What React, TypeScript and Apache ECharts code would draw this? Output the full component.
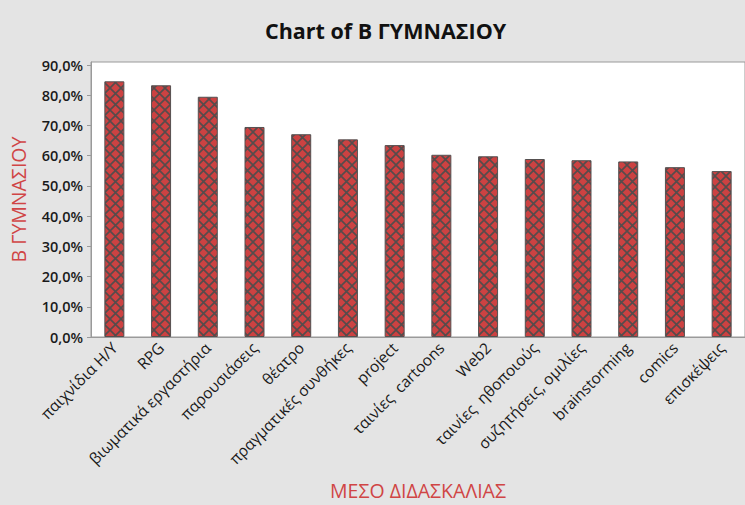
import React, { useEffect, useRef } from "react";
import * as echarts from "echarts";

const categories = [
  "παιχνίδια Η/Υ",
  "RPG",
  "βιωματικά εργαστήρια",
  "παρουσιάσεις",
  "θέατρο",
  "πραγματικές συνθήκες",
  "project",
  "ταινίες  cartoons",
  "Web2",
  "ταινίες  ηθοποιούς",
  "συζητήσεις, ομιλίες",
  "brainstorming",
  "comics",
  "επισκέψεις",
];
const values = [84.6, 83.3, 79.5, 69.5, 67.1, 65.4, 63.5, 60.3, 59.8, 58.9, 58.5, 58.1, 56.2, 54.9];
const titleText = "Chart of Β ΓΥΜΝΑΣΙΟΥ";
const yName = "Β ΓΥΜΝΑΣΙΟΥ";
const xName = "ΜΕΣΟ ΔΙΔΑΣΚΑΛΙΑΣ";

const FONT = "'Open Sans', 'Noto Sans', sans-serif";

function makePattern(): HTMLCanvasElement {
  const s = 11;
  const c = document.createElement("canvas");
  c.width = s;
  c.height = s;
  const ctx = c.getContext("2d")!;
  ctx.fillStyle = "#cc4242";
  ctx.fillRect(0, 0, s, s);
  ctx.strokeStyle = "#554c4c";
  ctx.lineWidth = 1.6;
  ctx.beginPath();
  ctx.moveTo(0, 0);
  ctx.lineTo(s, s);
  ctx.moveTo(s, 0);
  ctx.lineTo(0, s);
  ctx.stroke();
  return c;
}

export default function App() {
  const ref = useRef<HTMLDivElement>(null);
  useEffect(() => {
    if (!ref.current) return;
    const chart = echarts.init(ref.current, undefined, { renderer: "svg" });
    const pattern = makePattern();
    chart.setOption({
      animation: false,
      backgroundColor: "#e4e4e4",
      textStyle: { fontFamily: FONT },
      title: {
        text: titleText,
        left: 260,
        top: 14,
        textStyle: { fontFamily: FONT, fontSize: 21.5, fontWeight: "bold", color: "#111" },
      },
      grid: {
        left: 90,
        top: 62,
        width: 660,
        height: 278,
        show: true,
        backgroundColor: "#ffffff",
        borderColor: "#9a9a9a",
        borderWidth: 1,
        containLabel: false,
      },
      xAxis: {
        type: "category",
        data: categories,
        name: xName,
        nameLocation: "middle",
        nameGap: 143,
        nameTextStyle: { color: "#d04545", fontSize: 19.5, fontFamily: FONT },
        axisLine: { lineStyle: { color: "#9a9a9a" } },
        axisTick: { alignWithLabel: true, length: 4, lineStyle: { color: "#9a9a9a" } },
        axisLabel: {
          rotate: 45,
          interval: 0,
          margin: 8,
          fontSize: 15.5,
          color: "#1a1a1a",
          fontFamily: FONT,
        },
      },
      yAxis: {
        type: "value",
        min: 0,
        max: 91,
        interval: 10,
        name: yName,
        nameLocation: "middle",
        nameRotate: 90,
        nameGap: 63,
        nameTextStyle: { color: "#d04545", fontSize: 19.5, fontFamily: FONT },
        splitLine: { show: false },
        axisLine: { show: true, lineStyle: { color: "#9a9a9a" } },
        axisTick: { show: true, length: 4, lineStyle: { color: "#9a9a9a" } },
        axisLabel: {
          showMaxLabel: false,
          margin: 8,
          fontSize: 14.5,
          fontWeight: 600,
          color: "#1a1a1a",
          fontFamily: FONT,
          formatter: (v: number) => v.toFixed(1).replace(".", ",") + "%",
        },
      },
      series: [
        {
          type: "bar",
          data: values,
          barWidth: 20,
          itemStyle: {
            color: { image: pattern, repeat: "repeat" },
            borderColor: "#555050",
            borderWidth: 1,
          },
        },
      ],
    });
    return () => chart.dispose();
  }, []);
  return (
    <div
      ref={ref}
      style={{ position: "fixed", left: 0, top: 0, width: 745, height: 505 }}
    />
  );
}
